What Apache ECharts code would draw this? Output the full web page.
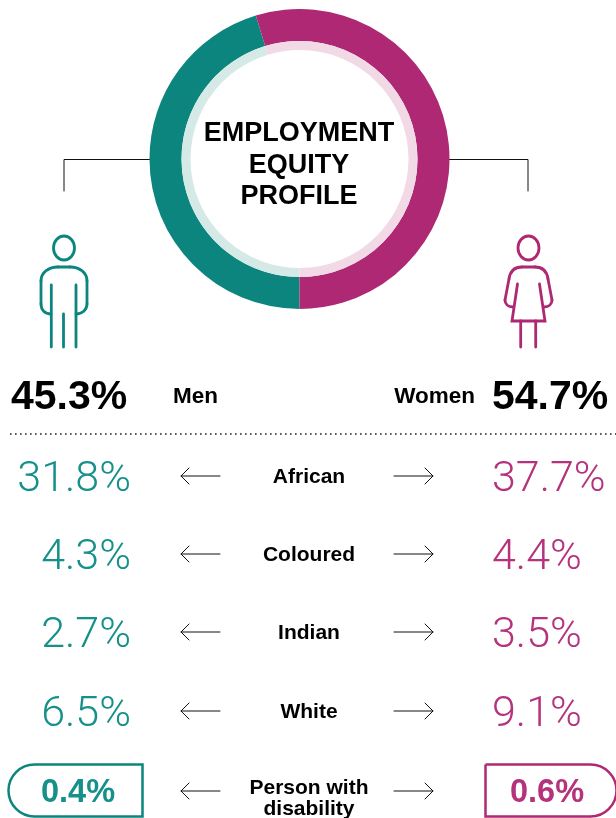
<!DOCTYPE html>
<html>
<head>
<meta charset="utf-8">
<style>html,body{margin:0;padding:0;background:#fff}#chart{width:616px;height:818px}</style>
<script src="https://cdn.jsdelivr.net/npm/echarts@6/dist/echarts.min.js"></script>
</head>
<body>
<div id="chart"></div>
<script>
// Employment equity figures, in percent
const genders = ['Men', 'Women'];
const genderShare = [45.3, 54.7];
const groups = ['African', 'Coloured', 'Indian', 'White'];
const menShare = [31.8, 4.3, 2.7, 6.5];
const womenShare = [37.7, 4.4, 3.5, 9.1];
const disabilityLabel = ['Person with', 'disability'];
const disabilityShare = [0.4, 0.6];
const titleLines = ['EMPLOYMENT', 'EQUITY', 'PROFILE'];

const TEAL = '#0c857e', MAGENTA = '#ae2873';
const TEAL_TEXT = '#16908a', MAGENTA_TEXT = '#b5337c';
const TEAL_PALE = '#d5e9e7', MAGENTA_PALE = '#f1d9e6';
const SANS = '"Liberation Sans", Arial, sans-serif';
const LIGHT = 'Roboto, "Liberation Sans", sans-serif';
const cx = 299.5, cy = 159;
const rowY = [476, 554, 632, 711];
const disabilityY = 791;

const g = [];
const text = (str, x, y, font, fill, align) => g.push({
  type: 'text', silent: true,
  style: { text: str, x, y, font, fill, align: align || 'center', verticalAlign: 'middle' }
});
const stroke = (pts, color, width) => g.push({
  type: 'polyline', silent: true,
  shape: { points: pts },
  style: { stroke: color, lineWidth: width, fill: null, lineCap: 'round', lineJoin: 'miter' }
});
// One cubic segment of a figure outline
const curve = (a, c1, c2, b, color, width) => g.push({
  type: 'bezierCurve', silent: true,
  shape: { x1: a[0], y1: a[1], cpx1: c1[0], cpy1: c1[1], cpx2: c2[0], cpy2: c2[1], x2: b[0], y2: b[1] },
  style: { stroke: color, lineWidth: width, fill: null, lineCap: 'round' }
});
const leftArrow = y => {
  stroke([[181, y], [220, y]], '#111', 1);
  stroke([[189, y - 8], [181, y], [189, y + 8]], '#111', 1);
};
const rightArrow = y => {
  stroke([[394, y], [433, y]], '#111', 1);
  stroke([[425, y - 8], [433, y], [425, y + 8]], '#111', 1);
};

// Centre title
titleLines.forEach((t, i) => text(t, 299, [134, 166, 197][i], 'bold 27px ' + SANS, '#000'));

// Leader lines from the ring to the figures
stroke([[150, 159.5], [64, 159.5], [64, 191]], '#111', 1);
stroke([[449, 159.5], [528, 159.5], [528, 191]], '#111', 1);

// Man figure
const W = 2.8;
g.push({ type: 'ellipse', silent: true, shape: { cx: 64, cy: 248, rx: 10.5, ry: 12 },
  style: { stroke: TEAL, lineWidth: W, fill: null } });
curve([51, 314], [45, 314], [41, 310], [41, 304], TEAL, W);
stroke([[41, 304], [41, 281]], TEAL, W);
curve([41, 281], [41, 272], [49, 267], [58, 267], TEAL, W);
stroke([[58, 267], [70, 267]], TEAL, W);
curve([70, 267], [79, 267], [87, 272], [87, 281], TEAL, W);
stroke([[87, 281], [87, 304]], TEAL, W);
curve([87, 304], [87, 310], [82, 314], [76, 314], TEAL, W);
stroke([[51.3, 285], [51.3, 347]], TEAL, W);
stroke([[63.5, 314], [63.5, 347]], TEAL, W);
stroke([[76, 285], [76, 347]], TEAL, W);

// Woman figure
g.push({ type: 'ellipse', silent: true, shape: { cx: 528.5, cy: 248, rx: 10.5, ry: 12 },
  style: { stroke: MAGENTA, lineWidth: W, fill: null } });
curve([513, 307], [508, 307], [505, 304], [505, 300], MAGENTA, W);
stroke([[505, 300], [509, 279]], MAGENTA, W);
curve([509, 279], [510, 272], [514, 267], [522, 267], MAGENTA, W);
stroke([[522, 267], [535, 267]], MAGENTA, W);
curve([535, 267], [543, 267], [547, 272], [548, 279], MAGENTA, W);
stroke([[548, 279], [552, 300]], MAGENTA, W);
curve([552, 300], [552, 304], [549, 307], [544, 307], MAGENTA, W);
stroke([[517.5, 284], [512, 321], [545, 321], [539.5, 284]], MAGENTA, W);
stroke([[520.7, 321], [520.7, 347]], MAGENTA, W);
stroke([[535.7, 321], [535.7, 347]], MAGENTA, W);

// Headline shares
text(genderShare[0].toFixed(1) + '%', 11, 398, 'bold 41px ' + SANS, '#000', 'left');
text(genders[0], 173, 397, 'bold 22.5px ' + SANS, '#000', 'left');
text(genders[1], 475, 397, 'bold 22.5px ' + SANS, '#000', 'right');
text(genderShare[1].toFixed(1) + '%', 492, 398, 'bold 41px ' + SANS, '#000', 'left');

// Dotted divider
g.push({ type: 'line', silent: true, shape: { x1: 10, y1: 434, x2: 616, y2: 434 },
  style: { stroke: '#222', lineWidth: 1.6, lineDash: [1.6, 3.4] } });

// Population group rows
groups.forEach((name, i) => {
  const y = rowY[i];
  text(menShare[i].toFixed(1) + '%', 131, y + 4, '300 43px ' + LIGHT, TEAL_TEXT, 'right');
  text(womenShare[i].toFixed(1) + '%', 492, y + 4, '300 43px ' + LIGHT, MAGENTA_TEXT, 'left');
  text(name, 309, y + 1, 'bold 21px ' + SANS, '#000');
  leftArrow(y);
  rightArrow(y);
});

// Disability row, boxed
g.push({ type: 'rect', silent: true, shape: { x: 8.5, y: 764.5, width: 134, height: 52, r: [26, 0, 0, 26] },
  style: { stroke: TEAL, lineWidth: 2.5, fill: null } });
g.push({ type: 'rect', silent: true, shape: { x: 485.5, y: 764.5, width: 131, height: 52, r: [0, 26, 26, 0] },
  style: { stroke: MAGENTA, lineWidth: 2.5, fill: null } });
text(disabilityShare[0].toFixed(1) + '%', 78, 793, 'bold 32.5px ' + SANS, TEAL_TEXT);
text(disabilityShare[1].toFixed(1) + '%', 547, 793, 'bold 32.5px ' + SANS, MAGENTA_TEXT);
disabilityLabel.forEach((t, i) => text(t, 309, [788, 809][i], 'bold 21px ' + SANS, '#000'));
leftArrow(disabilityY);
rightArrow(disabilityY);

const ring = (radius, colors) => ({
  type: 'pie', silent: true, animation: false,
  center: [cx, cy], radius,
  startAngle: 270, clockwise: true,
  label: { show: false }, labelLine: { show: false },
  data: genders.map((name, i) => ({ name, value: genderShare[i], itemStyle: { color: colors[i] } }))
});

const chart = echarts.init(document.getElementById('chart'), null, { renderer: 'canvas' });
chart.setOption({
  backgroundColor: '#fff',
  animation: false,
  series: [ring([118, 150], [TEAL, MAGENTA]), ring([109, 118], [TEAL_PALE, MAGENTA_PALE])],
  graphic: { elements: g }
});
</script>
</body>
</html>
